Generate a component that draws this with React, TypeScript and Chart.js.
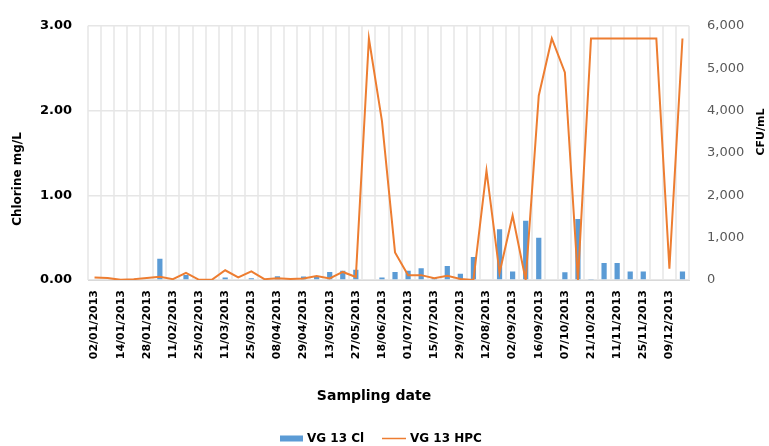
import React, { useEffect, useRef } from "react";
import { Chart, registerables } from "chart.js";

Chart.register(...registerables);

const categories: string[] = [
  "02/01/2013", "07/01/2013", "14/01/2013", "21/01/2013", "28/01/2013", "04/02/2013",
  "11/02/2013", "18/02/2013", "25/02/2013", "04/03/2013", "11/03/2013", "18/03/2013",
  "25/03/2013", "02/04/2013", "08/04/2013", "15/04/2013", "29/04/2013", "06/05/2013",
  "13/05/2013", "20/05/2013", "27/05/2013", "10/06/2013", "18/06/2013", "24/06/2013",
  "01/07/2013", "08/07/2013", "15/07/2013", "22/07/2013", "29/07/2013", "05/08/2013",
  "12/08/2013", "26/08/2013", "02/09/2013", "09/09/2013", "16/09/2013", "30/09/2013",
  "07/10/2013", "14/10/2013", "21/10/2013", "04/11/2013", "11/11/2013", "18/11/2013",
  "25/11/2013", "02/12/2013", "09/12/2013", "16/12/2013",
];

const chlorine: number[] = [
  0, 0, 0, 0, 0, 0.25, 0, 0.06, 0, 0, 0.03, 0,
  0.02, 0, 0.045, 0.01, 0.04, 0.045, 0.095, 0.11, 0.12, 0, 0.03, 0.095,
  0.11, 0.14, 0.02, 0.165, 0.075, 0.27, 0.01, 0.6, 0.1, 0.7, 0.5, 0.01,
  0.09, 0.72, 0.005, 0.2, 0.2, 0.1, 0.1, 0, 0, 0.1,
];

const hpc: number[] = [
  60, 45, 5, 20, 50, 75, 20, 170, 5, 10, 230, 60,
  205, 20, 40, 25, 35, 95, 35, 190, 70, 5700, 3750, 650,
  115, 115, 40, 100, 25, 0, 2580, 170, 1520, 0, 4350, 5700,
  4900, 0, 5700, 5700, 5700, 5700, 5700, 5700, 265, 5700,
];

const clLabel = "VG 13 Cl";
const hpcLabel = "VG 13 HPC";
const leftTitle = "Chlorine mg/L";
const rightTitle = "CFU/mL";
const xTitle = "Sampling date";

const BLUE = "#5b9bd5";
const ORANGE = "#ed7d31";
const FONT = "'DejaVu Sans', sans-serif";

const decorPlugin = {
  id: "decor",
  afterDraw(chart: any) {
    const ctx = chart.ctx as CanvasRenderingContext2D;
    ctx.save();
    ctx.fillStyle = "#000";
    ctx.textBaseline = "middle";
    ctx.textAlign = "center";
    // left title
    ctx.save();
    ctx.translate(18, 179);
    ctx.rotate(-Math.PI / 2);
    ctx.font = `bold 12px ${FONT}`;
    ctx.fillText(leftTitle, 0, 0);
    ctx.restore();
    // right title
    ctx.save();
    ctx.translate(761, 132);
    ctx.rotate(-Math.PI / 2);
    ctx.font = `bold 11px ${FONT}`;
    ctx.fillText(rightTitle, 0, 0);
    ctx.restore();
    // x title
    ctx.font = `bold 14px ${FONT}`;
    ctx.fillText(xTitle, 374, 396);
    // legend
    ctx.font = `bold 12px ${FONT}`;
    ctx.textAlign = "left";
    ctx.fillStyle = BLUE;
    ctx.fillRect(280, 435.5, 23, 6);
    ctx.fillStyle = "#000";
    ctx.fillText(clLabel, 307, 438.5);
    ctx.strokeStyle = ORANGE;
    ctx.lineWidth = 1.5;
    ctx.beginPath();
    ctx.moveTo(382, 438.5);
    ctx.lineTo(406, 438.5);
    ctx.stroke();
    ctx.fillText(hpcLabel, 410, 438.5);
    ctx.restore();
  },
};

export default function App() {
  const ref = useRef<HTMLCanvasElement>(null);
  useEffect(() => {
    if (!ref.current) return;
    const chart = new Chart(ref.current, {
      type: "bar",
      data: {
        labels: categories,
        datasets: [
          {
            type: "line",
            label: hpcLabel,
            data: hpc,
            yAxisID: "y1",
            borderColor: ORANGE,
            backgroundColor: ORANGE,
            borderWidth: 2,
            pointRadius: 0,
            tension: 0,
            order: 0,
          } as any,
          {
            type: "bar",
            label: clLabel,
            data: chlorine,
            yAxisID: "y",
            backgroundColor: BLUE,
            categoryPercentage: 1,
            barPercentage: 0.4,
            order: 1,
          },
        ],
      },
      options: {
        responsive: false,
        animation: false,
        devicePixelRatio: 1,
        layout: { padding: { top: 17, left: 0, right: 0, bottom: 0 } },
        plugins: { legend: { display: false }, tooltip: { enabled: false } },
        scales: {
          x: {
            offset: true,
            grid: { offset: true, color: "#ececec", lineWidth: 2, drawTicks: false },
            border: { color: "#d9d9d9", width: 1 },
            ticks: {
              autoSkip: false,
              maxRotation: 90,
              minRotation: 90,
              padding: 10,
              color: "#000",
              font: { family: FONT, size: 11, weight: "bold" },
              callback: (_v: any, i: number) => (i % 2 === 0 ? categories[i] : ""),
            },
            afterFit: (s: any) => {
              s.height = 166;
            },
          },
          y: {
            position: "left",
            min: 0,
            max: 3,
            grid: { color: "#e6e6e6", lineWidth: 1.5, drawTicks: false },
            border: { display: false },
            ticks: {
              stepSize: 1,
              padding: 16,
              color: "#000",
              font: { family: FONT, size: 13, weight: "bold" },
              callback: (v: any) => Number(v).toFixed(2),
            },
            afterFit: (s: any) => {
              s.width = 88;
            },
          },
          y1: {
            position: "right",
            min: 0,
            max: 6000,
            grid: { drawOnChartArea: false, drawTicks: false },
            border: { display: false },
            ticks: {
              stepSize: 1000,
              padding: 18,
              color: "#595959",
              font: { family: FONT, size: 13 },
            },
            afterFit: (s: any) => {
              s.width = 80;
            },
          },
        },
      },
      plugins: [decorPlugin],
    });
    return () => chart.destroy();
  }, []);
  return (
    <div style={{ position: "absolute", left: 0, top: 0, width: 769, height: 446, background: "#fff" }}>
      <canvas ref={ref} width={769} height={446} style={{ width: 769, height: 446 }} />
    </div>
  );
}
